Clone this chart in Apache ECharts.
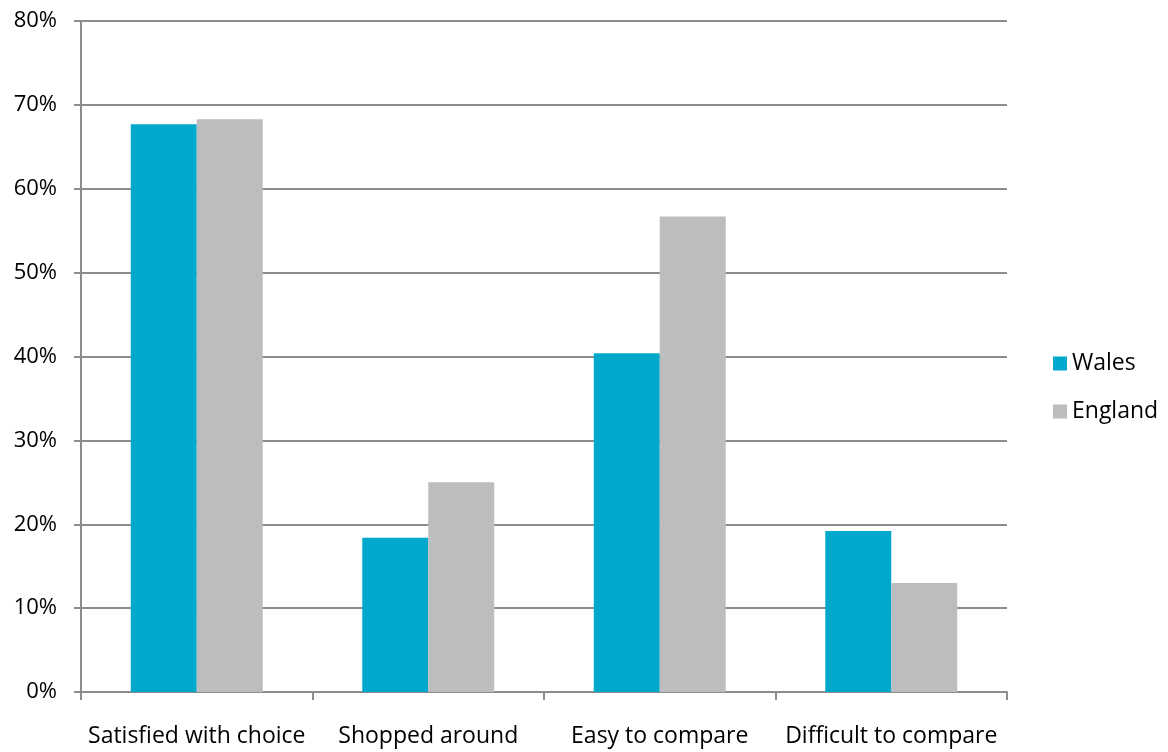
<!DOCTYPE html>
<html>
<head>
<meta charset="utf-8">
<script src="https://cdn.jsdelivr.net/npm/echarts@6/dist/echarts.min.js"></script>
<style>
  html, body { margin: 0; padding: 0; background: #fff; }
  #chart { width: 1168px; height: 752px; }
</style>
</head>
<body>
<div id="chart"></div>
<script>
// Survey responses by nation (share of respondents)
const categories = ['Satisfied with choice', 'Shopped around', 'Easy to compare', 'Difficult to compare'];
const wales = [67.7, 18.4, 40.4, 19.2];
const england = [68.3, 25.0, 56.7, 13.0];
const yTicks = [0, 10, 20, 30, 40, 50, 60, 70, 80];

const FONT = '"Open Sans", "Noto Sans", sans-serif';
const chart = echarts.init(document.getElementById('chart'));

chart.setOption({
  animation: false,
  textStyle: { fontFamily: FONT },
  legend: {
    orient: 'vertical',
    left: 1048,
    top: 347,
    itemWidth: 14,
    itemHeight: 14,
    itemGap: 25,
    icon: 'rect',
    textStyle: { fontSize: 23, color: '#000', fontFamily: FONT },
    data: ['Wales', 'England']
  },
  grid: { left: 81, right: 161, top: 21, bottom: 60, containLabel: false },
  xAxis: {
    type: 'category',
    data: categories,
    axisLine: { show: true, lineStyle: { color: '#8c8c8c', width: 2 } },
    axisTick: { show: true, length: 8, lineStyle: { color: '#8c8c8c', width: 2 } },
    axisLabel: { color: '#000', fontSize: 23, margin: 33, fontFamily: FONT, interval: 0 }
  },
  yAxis: {
    type: 'value',
    min: yTicks[0],
    max: yTicks[yTicks.length - 1],
    interval: 10,
    axisLine: { show: true, lineStyle: { color: '#8c8c8c', width: 2 } },
    axisTick: { show: true, length: 7, lineStyle: { color: '#8c8c8c', width: 2 } },
    axisLabel: { color: '#000', fontSize: 22, margin: 24, fontFamily: FONT, formatter: v => v + '%' },
    splitLine: { show: true, lineStyle: { color: '#8c8c8c', width: 2 } }
  },
  series: [
    {
      name: 'Wales', type: 'bar', data: wales,
      itemStyle: { color: '#00a8cb' },
      barGap: '0%', barCategoryGap: '43%'
    },
    {
      name: 'England', type: 'bar', data: england,
      itemStyle: { color: '#bcbdbf' },
      barGap: '0%', barCategoryGap: '43%'
    }
  ]
});
</script>
</body>
</html>
